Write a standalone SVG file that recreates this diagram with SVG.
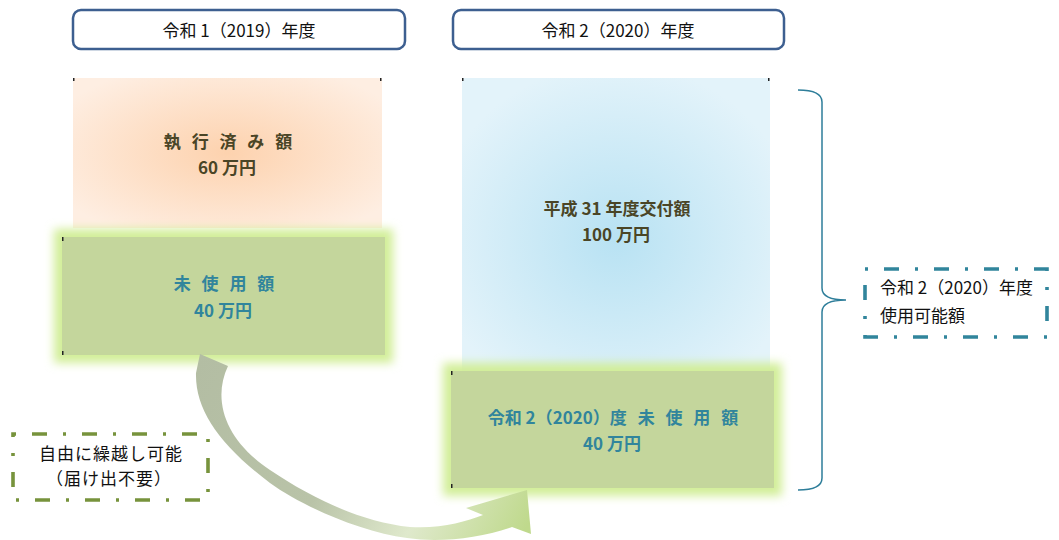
<svg xmlns="http://www.w3.org/2000/svg" width="1059" height="540" viewBox="0 0 1059 540">
  <style>
    .hdr { fill: #ffffff; stroke: #3d5f90; stroke-width: 2.5; }
    .t { font-family: "Noto Sans CJK JP", "Noto Sans", sans-serif; font-size: 17px; fill: #111111; }
    .b { font-family: "Noto Sans CJK JP", "Noto Sans", sans-serif; font-size: 17px; font-weight: bold; }
    .dark { fill: #4a4526; }
    .teal { fill: #31859c; }
    .ws { word-spacing: 7px; }
    .green { fill: #c4d69c; }
    .glowr { fill: #d2ee98; filter: url(#glow); }
    .tick { fill: #222222; }
    .dashT { fill: none; stroke: #31859c; stroke-width: 3.6; stroke-dasharray: 3 16 15 16; }
    .dashO { fill: none; stroke: #77933c; stroke-width: 3.6; stroke-dasharray: 3 16 15 16; }
  </style>
  <defs>
    <radialGradient id="gOrange" cx="0.5" cy="0.5" r="0.62">
      <stop offset="0" stop-color="#fdd2ae"/>
      <stop offset="1" stop-color="#feeee2"/>
    </radialGradient>
    <radialGradient id="gBlue" cx="0.5" cy="0.55" r="0.6">
      <stop offset="0" stop-color="#b8e2f3"/>
      <stop offset="1" stop-color="#e3f3fa"/>
    </radialGradient>
    <linearGradient id="gArrow" gradientUnits="userSpaceOnUse" x1="200" y1="354" x2="530" y2="520">
      <stop offset="0" stop-color="#b3bda3"/>
      <stop offset="0.45" stop-color="#b9c3a8"/>
      <stop offset="0.72" stop-color="#dfe9cc"/>
      <stop offset="1" stop-color="#bfd98c"/>
    </linearGradient>
    <filter id="glow" x="-20%" y="-30%" width="140%" height="160%">
      <feGaussianBlur stdDeviation="5"/>
    </filter>
  </defs>

  <g id="header-2019">
    <rect class="hdr" x="73" y="10" width="332" height="39" rx="8"/>
    <text class="t" x="239" y="37" text-anchor="middle">令和 1（2019）年度</text>
  </g>
  <g id="header-2020">
    <rect class="hdr" x="453" y="10" width="331" height="39" rx="8"/>
    <text class="t" x="618" y="37" text-anchor="middle">令和 2（2020）年度</text>
  </g>

  <g id="executed">
    <rect x="73" y="78" width="309" height="150" fill="url(#gOrange)"/>
    <rect class="tick" x="73" y="78" width="1.5" height="3"/>
    <rect class="tick" x="380" y="78" width="1.5" height="3"/>
    <text class="b dark ws" x="228" y="148" text-anchor="middle">執 行 済 み 額</text>
    <text class="b dark" x="227" y="174" text-anchor="middle">60 万円</text>
  </g>

  <g id="grant">
    <rect x="462" y="78" width="308" height="293" fill="url(#gBlue)"/>
    <rect class="tick" x="462" y="78" width="1.5" height="3"/>
    <rect class="tick" x="768" y="78" width="1.5" height="3"/>
    <text class="b dark" x="617" y="215" text-anchor="middle">平成 31 年度交付額</text>
    <text class="b dark" x="616" y="241" text-anchor="middle">100 万円</text>
  </g>

  <g id="unused-2019">
    <rect class="glowr" x="54" y="229" width="339" height="134"/>
    <rect class="green" x="62" y="237" width="323" height="118"/>
    <rect class="tick" x="62" y="237" width="1.5" height="4"/>
    <rect class="tick" x="62" y="351" width="1.5" height="4"/>
    <text class="b teal ws" x="224" y="290" text-anchor="middle">未 使 用 額</text>
    <text class="b teal" x="223" y="317" text-anchor="middle">40 万円</text>
  </g>

  <g id="unused-2020">
    <rect class="glowr" x="443" y="363" width="339" height="133"/>
    <rect class="green" x="451" y="371" width="323" height="117"/>
    <rect class="tick" x="451" y="371" width="1.5" height="4"/>
    <rect class="tick" x="451" y="484" width="1.5" height="4"/>
    <text class="b teal" x="613" y="424" text-anchor="middle">令和 2（2020）度<tspan class="ws"> 未 使 用 額</tspan></text>
    <text class="b teal" x="612" y="450" text-anchor="middle">40 万円</text>
  </g>

  <g id="connectors">
    <path id="carry-arrow" fill="url(#gArrow)" d="M200,354 L228,366 C212,400 225,440 270,470 C310,497 360,522 410,527 C440,529 465,522 483,515 L466,508 L527,490 L531,534 L512,527 C480,538 440,543 407,538 C360,532 300,505 270,483 C220,445 195,410 196,373 Z"/>
    <path id="brace" fill="none" stroke="#2e7e9a" stroke-width="1.5" d="M798,90 Q822,90 822,102 L822,288 Q822,300 846,300 Q822,300 822,312 L822,478 Q822,490 798,490"/>
  </g>

  <g id="label-carry">
    <rect class="dashO" x="13" y="434" width="195" height="66"/>
    <text class="t" x="111" y="460" text-anchor="middle" letter-spacing="1">自由に繰越し可能</text>
    <text class="t" x="109" y="485" text-anchor="middle" letter-spacing="1">（届け出不要）</text>
  </g>

  <g id="label-available">
    <rect class="dashT" x="865" y="269" width="182" height="68"/>
    <text class="t" x="880" y="294">令和 2（2020）年度</text>
    <text class="t" x="880" y="322">使用可能額</text>
  </g>
</svg>
